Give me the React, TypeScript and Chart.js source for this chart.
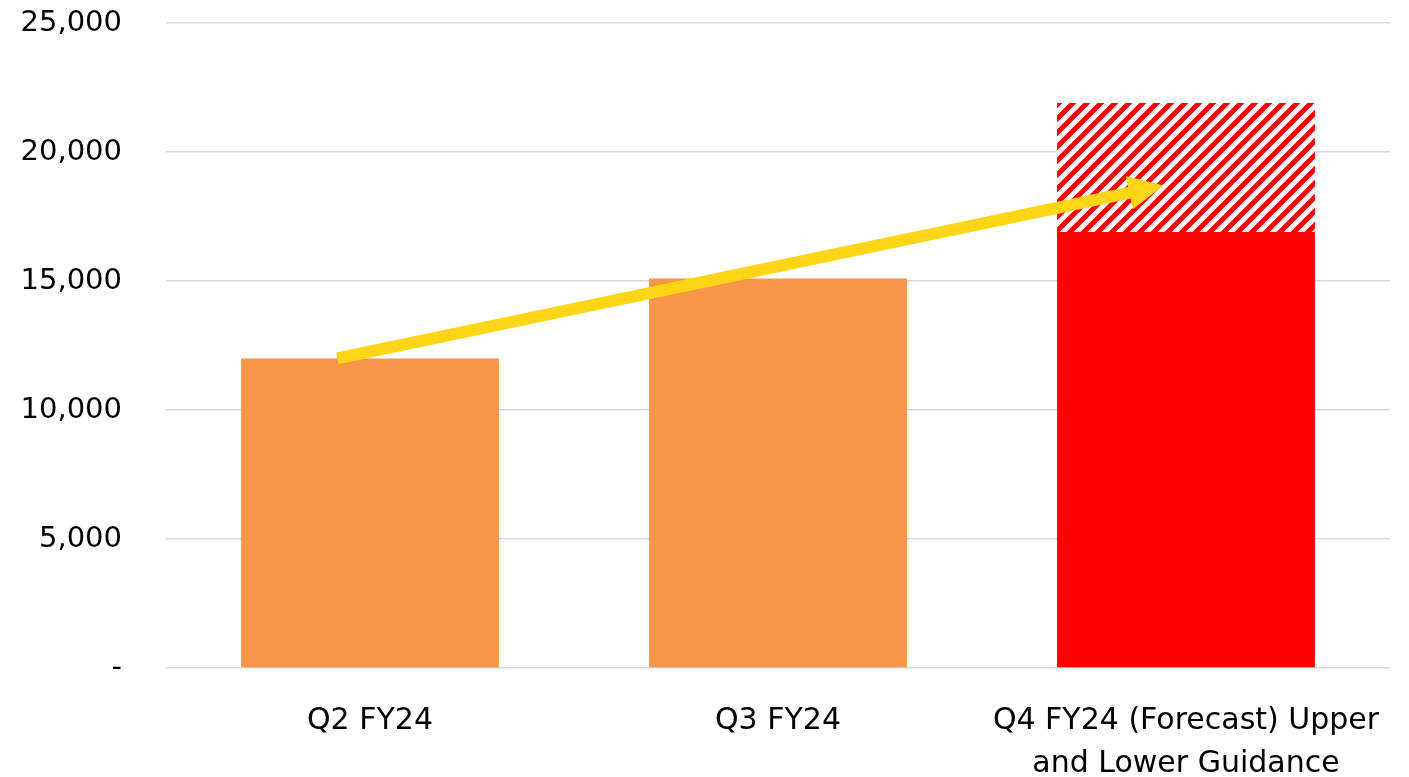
import React, { useEffect, useRef } from "react";
import { Chart, registerables } from "chart.js";

Chart.register(...registerables);

const categories: (string | string[])[] = [
  "Q2 FY24",
  "Q3 FY24",
  ["Q4 FY24 (Forecast) Upper", "and Lower Guidance"],
];
const actualValues = [12000, 15100, 16900];
const guidanceRange = [0, 0, 5000];
const barColors = ["#F79646", "#F79646", "#FF0000"];
const yTicks = [0, 5000, 10000, 15000, 20000, 25000];
// arrow endpoints in data coordinates (category index, value)
const arrowStart = { x: -0.08, y: 12000 };
const arrowEnd = { x: 1.945, y: 18700 };

function makePattern(): CanvasPattern | string {
  const s = 14;
  const c = document.createElement("canvas");
  c.width = s;
  c.height = s;
  const ctx = c.getContext("2d");
  if (!ctx) return "#FF0000";
  ctx.fillStyle = "#FFFFFF";
  ctx.fillRect(0, 0, s, s);
  ctx.strokeStyle = "#FF0000";
  ctx.lineWidth = 5;
  ctx.beginPath();
  ctx.moveTo(-2, s + 2);
  ctx.lineTo(s + 2, -2);
  ctx.moveTo(-2, 2);
  ctx.lineTo(2, -2);
  ctx.moveTo(s - 2, s + 2);
  ctx.lineTo(s + 2, s - 2);
  ctx.stroke();
  const p = ctx.createPattern(c, "repeat");
  return p || "#FF0000";
}

const arrowPlugin = {
  id: "arrowPlugin",
  afterDatasetsDraw(chart: any) {
    const xs = chart.scales.x;
    const ys = chart.scales.y;
    const x1 = xs.getPixelForValue(arrowStart.x);
    const y1 = ys.getPixelForValue(arrowStart.y);
    const x2 = xs.getPixelForValue(arrowEnd.x);
    const y2 = ys.getPixelForValue(arrowEnd.y);
    const ang = Math.atan2(y2 - y1, x2 - x1);
    const headLen = 35;
    const headHalf = 17;
    const bx = x2 - headLen * Math.cos(ang);
    const by = y2 - headLen * Math.sin(ang);
    const ctx = chart.ctx;
    ctx.save();
    ctx.strokeStyle = "#FFD617";
    ctx.fillStyle = "#FFD617";
    ctx.lineWidth = 12;
    ctx.lineCap = "butt";
    ctx.beginPath();
    ctx.moveTo(x1, y1);
    ctx.lineTo(bx + 2 * Math.cos(ang), by + 2 * Math.sin(ang));
    ctx.stroke();
    ctx.beginPath();
    ctx.moveTo(x2, y2);
    ctx.lineTo(bx + headHalf * Math.sin(ang), by - headHalf * Math.cos(ang));
    ctx.lineTo(bx - headHalf * Math.sin(ang), by + headHalf * Math.cos(ang));
    ctx.closePath();
    ctx.fill();
    ctx.restore();
  },
};

export default function App() {
  const ref = useRef<HTMLCanvasElement | null>(null);
  useEffect(() => {
    document.body.style.margin = "0";
    if (!ref.current) return;
    const pattern = makePattern();
    const chart = new Chart(ref.current, {
      type: "bar",
      data: {
        labels: categories as any,
        datasets: [
          {
            label: "Actual",
            data: actualValues,
            backgroundColor: barColors,
            borderWidth: 0,
            barPercentage: 0.632,
            categoryPercentage: 1,
          },
          {
            label: "Guidance range",
            data: guidanceRange,
            backgroundColor: pattern as any,
            borderWidth: 0,
            barPercentage: 0.632,
            categoryPercentage: 1,
          },
        ],
      },
      options: {
        animation: false,
        responsive: false,
        layout: { padding: { top: 23, right: 19, left: 0, bottom: 0 } },
        plugins: {
          legend: { display: false },
          tooltip: { enabled: false },
        },
        scales: {
          x: {
            stacked: true,
            grid: { display: false },
            border: { display: false },
            ticks: {
              color: "#000000",
              font: { family: "'DejaVu Sans'", size: 30, lineHeight: 1.45 },
              padding: 23,
              maxRotation: 0,
              autoSkip: false,
            },
            afterFit: (s: any) => {
              s.height = 109;
              s.paddingTop = 0;
              s.paddingBottom = 0;
              s.paddingLeft = 0;
              s.paddingRight = 0;
            },
          },
          y: {
            stacked: true,
            min: 0,
            max: 25000,
            afterBuildTicks: (s: any) => {
              s.ticks = yTicks.map((v) => ({ value: v }));
            },
            grid: {
              color: "#D9D9D9",
              lineWidth: 1.5,
              drawTicks: false,
            },
            border: { display: false },
            ticks: {
              color: "#000000",
              font: { family: "'DejaVu Sans'", size: 29 },
              padding: 44,
              callback: (v: any) =>
                Number(v) === 0 ? "-" : Number(v).toLocaleString("en-US"),
            },
            afterFit: (s: any) => {
              s.width = 166;
              s.paddingTop = 0;
              s.paddingBottom = 0;
            },
          },
        },
      },
      plugins: [arrowPlugin],
    });
    return () => chart.destroy();
  }, []);
  return (
    <div style={{ width: 1409, height: 777 }}>
      <canvas ref={ref} width={1409} height={777} style={{ display: "block" }} />
    </div>
  );
}
